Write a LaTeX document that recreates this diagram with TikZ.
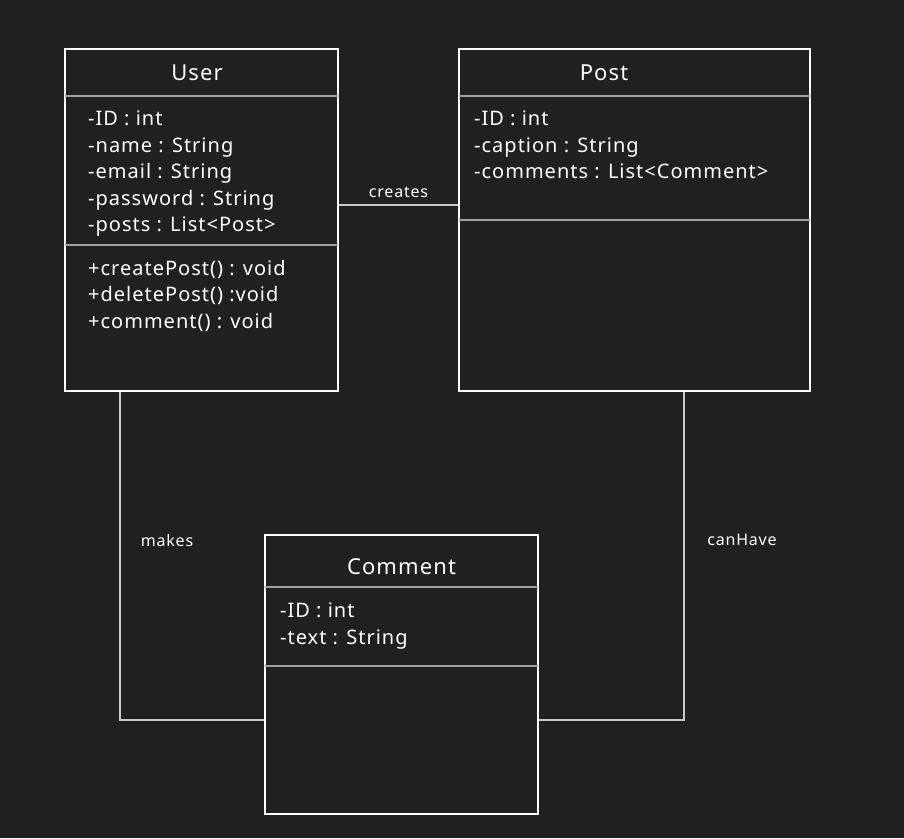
\documentclass[tikz,border=0pt]{standalone}
\usepackage{fontspec}
\setmainfont{Noto Sans}[LetterSpace=5]
\usepackage{tikz}
\usetikzlibrary{calc, positioning}
\definecolor{canvas}{RGB}{32,32,32}
\definecolor{divider}{RGB}{160,160,160}
\definecolor{link}{RGB}{200,200,200}

\tikzset{
  classbox/.style={draw=white, line width=2.2pt, inner sep=0pt},
  title/.style={text=white, font=\fontsize{22}{26}\selectfont},
  attr/.style={text=white, inner sep=0pt, anchor=base west, font=\fontsize{20}{24}\selectfont},
  rel/.style={text=white, font=\fontsize{16}{18}\selectfont},
}

\begin{document}
\begin{tikzpicture}[x=1pt, y=-1pt]
\fill[canvas] (0,0) rectangle (904,838);
\useasboundingbox (0,0) rectangle (904,838);

% class boxes
\node(user)[classbox, minimum width=273pt, minimum height=342pt] at (201.5, 220) {};
\node(post)[classbox, minimum width=351pt, minimum height=342pt] at (634.5, 220) {};
\node(comment)[classbox, minimum width=273pt, minimum height=279pt] at (401.5, 674.5) {};

\begin{scope}[divider, line width=1.3pt]
\draw ($(user.north west)+(1,48)$) -- ($(user.north east)+(-1,48)$);
\draw ($(user.north west)+(1,197)$) -- ($(user.north east)+(-1,197)$);
\draw ($(post.north west)+(1,48)$) -- ($(post.north east)+(-1,48)$);
\draw ($(post.north west)+(1,172)$) -- ($(post.north east)+(-1,172)$);
\draw ($(comment.north west)+(1,53)$) -- ($(comment.north east)+(-1,53)$);
\draw ($(comment.north west)+(1,132)$) -- ($(comment.north east)+(-1,132)$);
\end{scope}

% titles
\node(usertitle)[title] at (197, 73) {User};
\node(posttitle)[title] at (604, 73) {Post};
\node(commenttitle)[title] at (401.5, 567) {Comment};

% members
\foreach \txt [count=\i from 0] in {-ID : int, -name : String, -email : String, -password : String, -posts : List<Post>}
  \node(userattr\i)[attr] at (88, 125.5+26.5*\i) {\txt};
\foreach \txt [count=\i from 0] in {+createPost() : void, +deletePost() :void, +comment() : void}
  \node(userop\i)[attr] at (88, 275+26.5*\i) {\txt};
\foreach \txt [count=\i from 0] in {-ID : int, -caption : String, -comments : List<Comment>}
  \node(postattr\i)[attr] at (474, 125.5+26.5*\i) {\txt};
\foreach \txt [count=\i from 0] in {-ID : int, -text : String}
  \node(commentattr\i)[attr] at (280, 617.5+26.5*\i) {\txt};

% relations
\begin{scope}[link, line width=1.3pt]
\draw ([yshift=15pt]user.east) -- ([yshift=15pt]post.west) node[rel, midway, above=3pt](creates){creates};
\draw ([xshift=56pt]user.south west) |- ([yshift=-45.5pt]comment.west);
\draw ([xshift=226pt]post.south west) |- ([yshift=-45.5pt]comment.east);
\end{scope}
\node(makes)[rel] at (167, 540) {makes};
\node(canhave)[rel] at (742, 540) {canHave};
\end{tikzpicture}
\end{document}
